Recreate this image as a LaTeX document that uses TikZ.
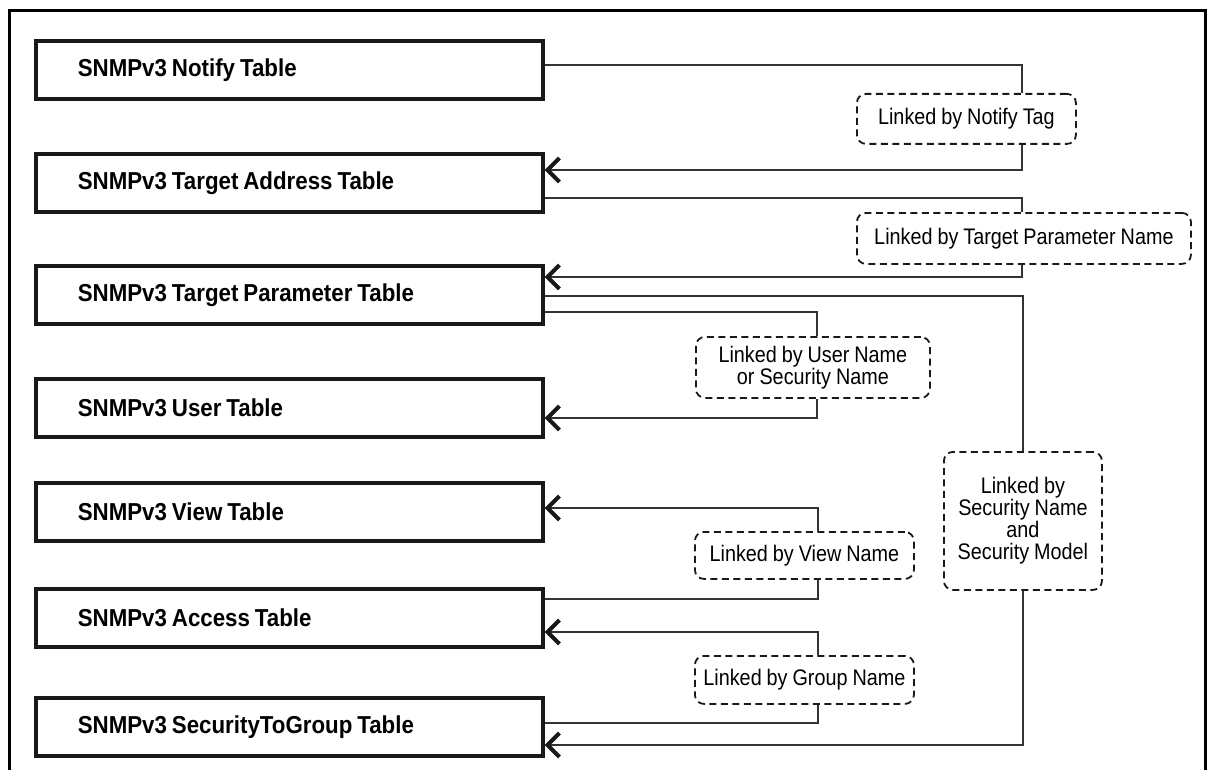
\documentclass[tikz,border=0pt]{standalone}
\usepackage{fontspec}
\setmainfont{Liberation Sans}
\newfontfamily\tblfont[FakeStretch=0.91,WordSpace=0.8]{Liberation Sans}
\newfontfamily\lnkfont[FakeStretch=0.88,WordSpace=0.9]{Liberation Sans}
\usetikzlibrary{arrows.meta}
\begin{document}
\begin{tikzpicture}[x=1pt,y=-1pt,
  tbl/.style={draw=black!90, line width=3.6pt, anchor=north west,
    minimum width=507pt, minimum height=58pt, text width=423pt,
    inner xsep=42pt, inner ysep=0pt, align=flush left,
    font=\tblfont\bfseries\fontsize{24.5}{27}\selectfont},
  lnk/.style={draw=black!90, line width=1.8pt, dash pattern=on 7pt off 4.5pt,
    rounded corners=9pt, anchor=north west, inner sep=0pt, align=flush center,
    font=\lnkfont\fontsize{22.5}{22}\selectfont},
  conn/.style={draw=black!80, line width=1.2pt},
  arr/.style={-{Straight Barb[length=12pt,width=24pt,line width=4pt,color=black!90]}}
]
\useasboundingbox (0,0) rectangle (1209,770);
\draw[line width=3pt] (9,775) -- (9,10.5) -- (1205,10.5) -- (1205,775);

% tables
\node[tbl] (notify) at (34,39)  {SNMPv3 Notify Table};
\node[tbl] (taddr)  at (34,152) {SNMPv3 Target Address Table};
\node[tbl] (tparam) at (34,264) {SNMPv3 Target Parameter Table};
\node[tbl] (user)   at (34,377) {SNMPv3 User Table};
\node[tbl] (view)   at (34,481) {SNMPv3 View Table};
\node[tbl] (access) at (34,587) {SNMPv3 Access Table};
\node[tbl] (stg)    at (34,696) {SNMPv3 SecurityToGroup Table};

% link labels
\node[lnk, minimum width=219pt, minimum height=50pt] (ltag)   at (856,93)  {Linked by Notify Tag};
\node[lnk, minimum width=334pt, minimum height=51pt] (ltpn)   at (856,212) {Linked by Target Parameter Name};
\node[lnk, minimum width=234pt, minimum height=61pt] (luser)  at (695,336) {Linked by User Name\\or Security Name};
\node[lnk, minimum width=219pt, minimum height=47pt] (lview)  at (694,531) {Linked by View Name};
\node[lnk, minimum width=219pt, minimum height=48pt] (lgroup) at (694,655) {Linked by Group Name};
\node[lnk, minimum width=158pt, minimum height=138pt] (lsec)  at (943,451) {Linked by\\Security Name\\and\\Security Model};

\coordinate (cA) at (1022,0);
\coordinate (cB) at (817,0);
\coordinate (cC) at (818,0);
\coordinate (cS) at (1023,0);

% connectors
\draw[conn] (notify.east |- 0,65) -| (ltag.north -| cA);
\draw[conn,arr] (ltag.south -| cA) |- (taddr.east |- 0,170);
\draw[conn] (taddr.east |- 0,198) -| (ltpn.north -| cA);
\draw[conn,arr] (ltpn.south -| cA) |- (tparam.east |- 0,277);
\draw[conn] (tparam.east |- 0,296) -| (lsec.north -| cS);
\draw[conn,arr] (lsec.south -| cS) |- (stg.east |- 0,745);
\draw[conn] (tparam.east |- 0,312) -| (luser.north -| cB);
\draw[conn,arr] (luser.south -| cB) |- (user.east |- 0,418);
\draw[conn,arr] (lview.north -| cC) |- (view.east |- 0,508);
\draw[conn] (access.east |- 0,599) -| (lview.south -| cC);
\draw[conn,arr] (lgroup.north -| cC) |- (access.east |- 0,632);
\draw[conn] (stg.east |- 0,723) -| (lgroup.south -| cC);
\end{tikzpicture}
\end{document}
